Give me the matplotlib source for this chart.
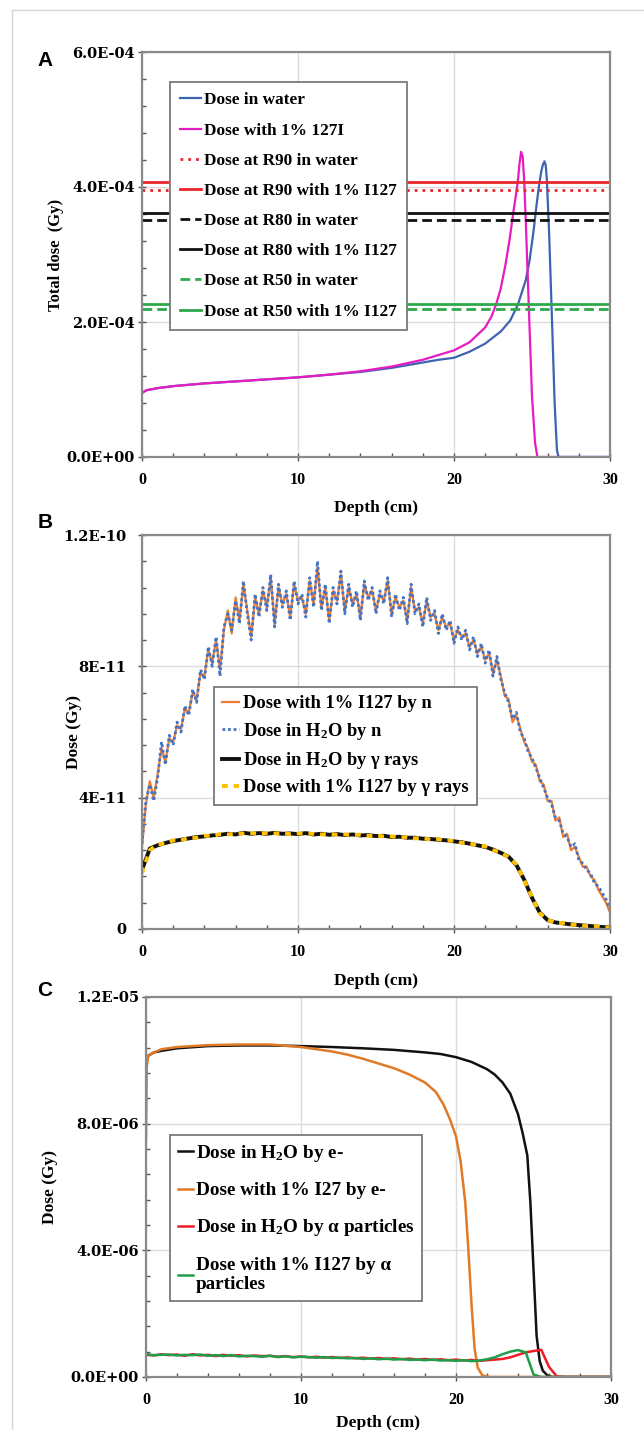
import numpy as np
import matplotlib
matplotlib.use("Agg")
import matplotlib.pyplot as plt
import matplotlib.ticker as ticker
from matplotlib.lines import Line2D

plt.rcParams['font.family'] = ['Liberation Serif', 'DejaVu Serif']
plt.rcParams['font.weight'] = 'bold'
plt.rcParams['axes.labelweight'] = 'bold'
plt.rcParams['mathtext.fontset'] = 'custom'
plt.rcParams['mathtext.rm'] = 'Liberation Serif:bold'
plt.rcParams['mathtext.it'] = 'Liberation Serif:italic:bold'
plt.rcParams['mathtext.bf'] = 'Liberation Serif:bold'

# ---------------- Panel A: total dose (units of 1E-04 Gy) ----------------
depth_a_water = [0, 0.3, 1, 2, 4, 6, 8, 10, 12, 14, 16, 18, 19, 20, 21, 22, 23,
                 23.6, 24.1, 24.6, 24.85, 25.1, 25.3, 25.45, 25.6, 25.7, 25.8,
                 25.88, 25.95, 26.1, 26.3, 26.45, 26.6, 26.7, 30]
dose_a_water = [0.95, 0.99, 1.02, 1.05, 1.09, 1.12, 1.15, 1.18, 1.22, 1.26, 1.32,
                1.40, 1.44, 1.47, 1.56, 1.68, 1.86, 2.02, 2.26, 2.62, 2.92, 3.35,
                3.75, 4.02, 4.24, 4.33, 4.38, 4.32, 4.12, 3.30, 1.90, 0.80, 0.10,
                0.0, 0.0]
depth_a_i127 = [0, 0.3, 1, 2, 4, 6, 8, 10, 12, 14, 16, 18, 19, 20, 21, 22, 22.4,
                22.7, 23.0, 23.3, 23.55, 23.8, 23.95, 24.1, 24.2, 24.3, 24.4, 24.5,
                24.6, 24.8, 25.0, 25.2, 25.35, 30]
dose_a_i127 = [0.95, 0.99, 1.02, 1.05, 1.09, 1.12, 1.15, 1.18, 1.22, 1.27, 1.34,
               1.44, 1.51, 1.58, 1.70, 1.92, 2.08, 2.26, 2.50, 2.85, 3.20, 3.62,
               3.85, 4.10, 4.35, 4.52, 4.45, 4.10, 3.50, 2.20, 0.90, 0.20, 0.0, 0.0]
r90_water, r90_i127 = 3.95, 4.07
r80_water, r80_i127 = 3.51, 3.62
r50_water, r50_i127 = 2.19, 2.26

# ---------------- Panel B: neutron / gamma dose (units of 1E-11 Gy) ----------------
dose_n_h2o = [2.6, 3.9, 4.4, 3.9, 4.6, 5.7, 5.0, 5.9, 5.6, 6.3,
              6.0, 6.8, 6.5, 7.3, 6.9, 7.9, 7.6, 8.6, 8.0, 8.9,
              7.7, 9.2, 9.6, 9.1, 10.0, 9.3, 10.6, 9.6, 8.8, 10.2,
              9.5, 10.4, 9.7, 10.8, 9.2, 10.5, 9.8, 10.3, 9.4, 10.6,
              9.9, 10.2, 9.5, 10.7, 9.8, 11.2, 9.7, 10.5, 9.3, 10.4,
              9.9, 10.9, 9.6, 10.5, 9.8, 10.3, 9.4, 10.6, 10.0, 10.4,
              9.6, 10.3, 9.9, 10.7, 9.5, 10.2, 9.7, 10.1, 9.3, 10.5,
              9.6, 9.9, 9.2, 10.1, 9.4, 9.7, 9.0, 9.6, 9.1, 9.4,
              8.7, 9.2, 8.8, 9.1, 8.5, 8.9, 8.3, 8.7, 8.1, 8.5,
              7.7, 8.3, 7.6, 7.2, 6.9, 6.4, 6.6, 6.0, 5.8, 5.4,
              5.2, 4.9, 4.6, 4.3, 4.0, 3.8, 3.4, 3.3, 2.9, 2.8,
              2.5, 2.6, 2.1, 2.0, 1.8, 1.7, 1.4, 1.3, 1.1, 0.9,
              0.6]
dose_n_i127 = [2.5, 3.8, 4.5, 4.0, 4.7, 5.5, 5.1, 5.8, 5.7, 6.2,
               6.1, 6.7, 6.6, 7.2, 7.0, 7.8, 7.7, 8.5, 8.1, 8.8,
               7.9, 9.1, 9.7, 9.0, 10.1, 9.4, 10.5, 9.7, 8.9, 10.1,
               9.6, 10.3, 9.8, 10.7, 9.3, 10.4, 9.9, 10.2, 9.5, 10.5,
               10.0, 10.1, 9.6, 10.6, 9.9, 11.0, 9.8, 10.4, 9.4, 10.3,
               10.0, 10.8, 9.7, 10.4, 9.9, 10.2, 9.5, 10.5, 10.1, 10.3,
               9.7, 10.2, 10.0, 10.6, 9.6, 10.1, 9.8, 10.0, 9.4, 10.4,
               9.7, 9.8, 9.3, 10.0, 9.5, 9.6, 9.1, 9.5, 9.2, 9.3,
               8.8, 9.1, 8.9, 9.0, 8.6, 8.8, 8.4, 8.6, 8.2, 8.4,
               7.8, 8.2, 7.7, 7.1, 7.0, 6.3, 6.5, 6.1, 5.7, 5.5,
               5.1, 5.0, 4.5, 4.4, 3.9, 3.9, 3.3, 3.4, 2.8, 2.9,
               2.4, 2.5, 2.2, 1.9, 1.9, 1.6, 1.5, 1.2, 1.0, 0.8,
               0.5]
dose_g_h2o = [1.8, 2.45, 2.55, 2.62, 2.68, 2.72, 2.76, 2.80, 2.82, 2.85,
              2.87, 2.90, 2.88, 2.93, 2.90, 2.92, 2.90, 2.93, 2.90, 2.91,
              2.89, 2.92, 2.88, 2.90, 2.87, 2.89, 2.86, 2.88, 2.85, 2.86,
              2.83, 2.84, 2.80, 2.81, 2.78, 2.78, 2.75, 2.74, 2.72, 2.70,
              2.67, 2.64, 2.60, 2.55, 2.50, 2.42, 2.32, 2.20, 1.95, 1.50,
              0.95, 0.50, 0.27, 0.20, 0.17, 0.14, 0.12, 0.10, 0.08, 0.06,
              0.05]
dose_g_i127 = [1.7, 2.40, 2.58, 2.60, 2.70, 2.70, 2.78, 2.78, 2.84, 2.83,
               2.89, 2.88, 2.90, 2.91, 2.92, 2.90, 2.92, 2.91, 2.92, 2.89,
               2.91, 2.90, 2.90, 2.88, 2.89, 2.87, 2.88, 2.86, 2.87, 2.84,
               2.85, 2.82, 2.82, 2.79, 2.80, 2.76, 2.77, 2.72, 2.74, 2.68,
               2.69, 2.62, 2.62, 2.53, 2.52, 2.40, 2.34, 2.18, 1.97, 1.48,
               0.97, 0.48, 0.28, 0.19, 0.18, 0.13, 0.13, 0.09, 0.09, 0.05,
               0.05]
depth_n = np.linspace(0, 30, len(dose_n_h2o))
depth_g = np.linspace(0, 30, len(dose_g_h2o))
ytick_b = [0, 4e-11, 8e-11, 1.2e-10]
ytick_b_labels = ['0', '4E-11', '8E-11', '1.2E-10']

# ---------------- Panel C: e- / alpha dose (units of 1E-06 Gy) ----------------
depth_e_h2o = [0, 0.5, 1, 2, 4, 6, 8, 10, 12, 14, 16, 18, 19, 20, 21, 22, 22.5,
               23, 23.5, 24, 24.3, 24.6, 24.8, 25, 25.2, 25.4, 25.6, 25.9, 26.2, 30]
dose_e_h2o = [10.1, 10.25, 10.3, 10.38, 10.45, 10.47, 10.47, 10.45, 10.42, 10.38,
              10.33, 10.25, 10.2, 10.1, 9.95, 9.72, 9.55, 9.3, 8.95, 8.3, 7.7,
              7.0, 5.5, 3.4, 1.3, 0.5, 0.2, 0.05, 0.0, 0.0]
depth_e_i127 = [0, 0.05, 0.15, 0.5, 1, 2, 4, 6, 8, 10, 11, 12, 13, 14, 15, 16, 17,
                18, 18.7, 19.2, 19.6, 20, 20.3, 20.6, 20.8, 21, 21.2, 21.4, 21.7,
                22.2, 30]
dose_e_i127 = [7.5, 9.8, 10.15, 10.25, 10.35, 10.42, 10.48, 10.5, 10.5, 10.42,
               10.35, 10.28, 10.18, 10.05, 9.9, 9.75, 9.55, 9.3, 9.0, 8.6, 8.15,
               7.6, 6.8, 5.5, 4.0, 2.3, 0.9, 0.3, 0.05, 0.0, 0.0]
dose_a_h2o = [0.70, 0.68, 0.72, 0.69, 0.71, 0.67, 0.72, 0.68, 0.70, 0.66,
              0.70, 0.67, 0.69, 0.65, 0.68, 0.66, 0.67, 0.64, 0.66, 0.63,
              0.65, 0.62, 0.64, 0.61, 0.63, 0.60, 0.62, 0.59, 0.61, 0.58,
              0.60, 0.57, 0.59, 0.56, 0.58, 0.55, 0.57, 0.54, 0.56, 0.53,
              0.55, 0.52, 0.54, 0.51, 0.53, 0.55, 0.57, 0.62, 0.70, 0.78,
              0.82, 0.86, 0.32, 0.02, 0.0, 0.0, 0.0, 0.0, 0.0, 0.0,
              0.0]
dose_a_i127_alpha = [0.72, 0.69, 0.70, 0.71, 0.68, 0.70, 0.69, 0.71, 0.67, 0.69,
                     0.66, 0.69, 0.65, 0.67, 0.66, 0.64, 0.67, 0.63, 0.65, 0.62,
                     0.64, 0.63, 0.61, 0.63, 0.60, 0.61, 0.59, 0.60, 0.57, 0.59,
                     0.56, 0.58, 0.55, 0.57, 0.54, 0.55, 0.53, 0.55, 0.52, 0.53,
                     0.51, 0.53, 0.50, 0.52, 0.56, 0.62, 0.72, 0.80, 0.85, 0.78,
                     0.08, 0.0, 0.0, 0.0, 0.0, 0.0, 0.0, 0.0, 0.0, 0.0,
                     0.0]
depth_alpha = np.linspace(0, 30, len(dose_a_h2o))

W, H = 644, 1430
SPINE = '#8a8a8a'
GRID = '#dcdcdc'


def px_axes(fig, left, right, top, bottom):
    return fig.add_axes([left / W, 1 - bottom / H, (right - left) / W, (bottom - top) / H])


def style(ax, ymax, ystep, yminor, label_y):
    ax.set_xlim(0, 30)
    ax.set_ylim(0, ymax)
    ax.xaxis.set_major_locator(ticker.MultipleLocator(10))
    ax.xaxis.set_minor_locator(ticker.MultipleLocator(2))
    ax.yaxis.set_major_locator(ticker.MultipleLocator(ystep))
    ax.yaxis.set_minor_locator(ticker.MultipleLocator(yminor))
    for s in ax.spines.values():
        s.set_color(SPINE)
        s.set_linewidth(1.6)
    ax.grid(True, which='major', color=GRID, linewidth=1.0)
    ax.set_axisbelow(True)
    ax.tick_params(which='major', direction='inout', length=6, width=1, color='#555555')
    ax.tick_params(which='minor', direction='in', length=3, width=1, color='#555555')
    ax.tick_params(axis='x', labelsize=11.5, pad=8)
    ax.tick_params(axis='y', labelsize=10.5, labelfontfamily='DejaVu Serif', pad=2)
    ax.tick_params(top=False, right=False, which='both')
    ax.set_xlabel('Depth (cm)', fontsize=12.5)
    ax.xaxis.set_label_coords(0.5, label_y)


def frame_legend(leg):
    leg.get_frame().set_edgecolor('#7a7a7a')
    leg.get_frame().set_linewidth(1.3)


fig = plt.figure(figsize=(W / 100, H / 100), dpi=100)

# outer light border
fig.add_artist(Line2D([12 / W, 12 / W], [0, 1 - 10 / H], color='#d4d4d4', lw=1,
                      transform=fig.transFigure))
fig.add_artist(Line2D([12 / W, 1], [1 - 10 / H, 1 - 10 / H], color='#d4d4d4', lw=1,
                      transform=fig.transFigure))

# ---- A ----
ax_a = px_axes(fig, 142, 610, 52, 457)
sc = 1e-4
ax_a.plot(depth_a_water, np.array(dose_a_water) * sc, color='#3d63b3', lw=1.6,
          label='Dose in water')
ax_a.plot(depth_a_i127, np.array(dose_a_i127) * sc, color='#e61cc2', lw=1.6,
          label='Dose with 1% 127I')
ax_a.axhline(r90_water * sc, color='#e8262b', lw=2, ls=(0, (1, 1.8)),
             label='Dose at R90 in water')
ax_a.axhline(r90_i127 * sc, color='#e8262b', lw=2, label='Dose at R90 with 1% I127')
ax_a.axhline(r80_water * sc, color='#111111', lw=2, ls=(0, (3.5, 1.8)),
             label='Dose at R80 in water')
ax_a.axhline(r80_i127 * sc, color='#111111', lw=2, label='Dose at R80 with 1% I127')
ax_a.axhline(r50_water * sc, color='#2ea84a', lw=2, ls=(0, (3.5, 1.8)),
             label='Dose at R50 in water')
ax_a.axhline(r50_i127 * sc, color='#2ea84a', lw=2, label='Dose at R50 with 1% I127')
style(ax_a, 6e-4, 2e-4, 0.4e-4, -0.105)
ax_a.yaxis.set_major_formatter(ticker.FuncFormatter(lambda v, p: f'{v:.1E}'))
ax_a.set_ylabel('Total dose  (Gy)', fontsize=12)
ax_a.yaxis.set_label_coords(-0.166, 0.5)
leg = ax_a.legend(loc='upper left', bbox_to_anchor=(0.06, 0.926), borderaxespad=0,
                  fontsize=12.4, handlelength=1.2, handletextpad=0.15,
                  labelspacing=0.82, borderpad=0.6, fancybox=False, framealpha=1)
frame_legend(leg)
fig.text(45 / W, 1 - 60 / H, 'A', family='Liberation Sans', weight='bold',
         fontsize=15, ha='center', va='center')

# ---- B ----
ax_b = px_axes(fig, 142, 610, 535, 929)
sb = 1e-11
ax_b.plot(depth_n, np.array(dose_n_i127) * sb, color='#ed7d31', lw=1.6,
          label='Dose with 1% I127 by n')
ax_b.plot(depth_n, np.array(dose_n_h2o) * sb, color='#4472c4', lw=2.0, ls=(0, (1, 1)),
          label='Dose in $\\mathrm{H_2O}$ by n')
ax_b.plot(depth_g, np.array(dose_g_h2o) * sb, color='#111111', lw=2.8,
          label='Dose in $\\mathrm{H_2O}$ by γ rays')
ax_b.plot(depth_g, np.array(dose_g_i127) * sb, color='#ffc000', lw=2.8, ls=(0, (1.5, 1.5)),
          label='Dose with 1% I127 by γ rays')
style(ax_b, 1.2e-10, 4e-11, 0.8e-11, -0.112)
ax_b.set_yticks(ytick_b)
ax_b.set_yticklabels(ytick_b_labels)
ax_b.tick_params(axis='y', pad=8)
ax_b.set_ylabel('Dose (Gy)', fontsize=12.5)
ax_b.yaxis.set_label_coords(-0.128, 0.5)
leg = ax_b.legend(loc='upper left', bbox_to_anchor=(0.154, 0.614), borderaxespad=0,
                  fontsize=13.3, handlelength=0.9, handletextpad=0.2,
                  labelspacing=0.45, borderpad=0.45, fancybox=False, framealpha=1)
frame_legend(leg)
fig.text(45 / W, 1 - 523 / H, 'B', family='Liberation Sans', weight='bold',
         fontsize=15, ha='center', va='center')

# ---- C ----
ax_c = px_axes(fig, 146, 611, 997, 1377)
s6 = 1e-6
ax_c.plot(depth_e_h2o, np.array(dose_e_h2o) * s6, color='#111111', lw=1.8,
          label='Dose in $\\mathrm{H_2O}$ by e-')
ax_c.plot(depth_e_i127, np.array(dose_e_i127) * s6, color='#e07a27', lw=1.8,
          label='Dose with 1% I27 by e-')
ax_c.plot(depth_alpha, np.array(dose_a_h2o) * s6, color='#ee1c25', lw=1.8,
          label='Dose in $\\mathrm{H_2O}$ by α particles')
ax_c.plot(depth_alpha, np.array(dose_a_i127_alpha) * s6, color='#1e9e4a', lw=1.8,
          label='Dose with 1% I127 by α\nparticles')
style(ax_c, 1.2e-5, 4e-6, 0.8e-6, -0.1)
ax_c.yaxis.set_major_formatter(ticker.FuncFormatter(lambda v, p: f'{v:.1E}'))
ax_c.set_ylabel('Dose (Gy)', fontsize=12.5)
ax_c.yaxis.set_label_coords(-0.19, 0.5)
leg = ax_c.legend(loc='upper left', bbox_to_anchor=(0.052, 0.637), borderaxespad=0,
                  fontsize=13.8, handlelength=0.8, handletextpad=0.15,
                  labelspacing=0.95, borderpad=0.4, fancybox=False, framealpha=1)
frame_legend(leg)
fig.text(45 / W, 1 - 990 / H, 'C', family='Liberation Sans', weight='bold',
         fontsize=15, ha='center', va='center')

fig.savefig('out.png', dpi=100)
